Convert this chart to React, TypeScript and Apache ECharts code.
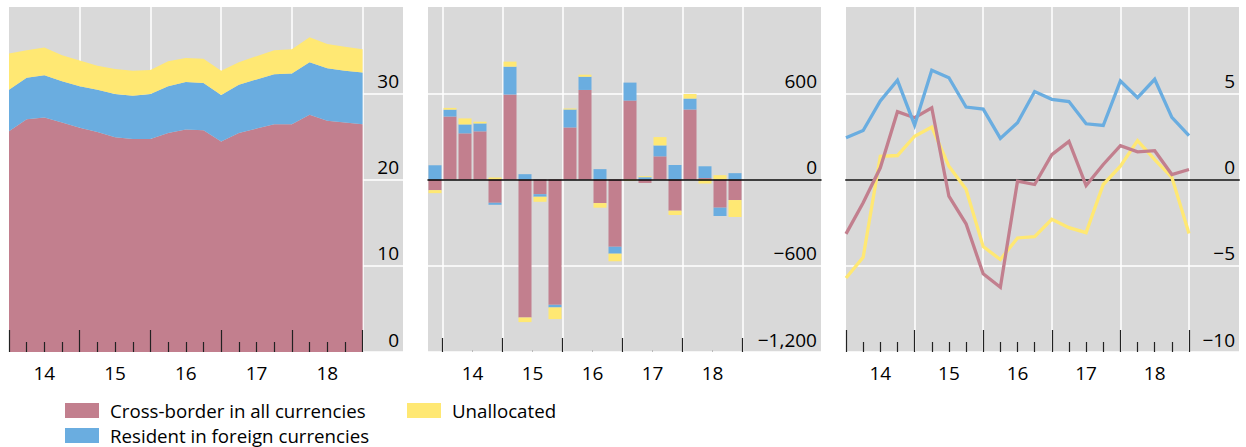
import React, { useEffect, useRef } from "react";
import * as echarts from "echarts";

// Quarters (quarter-end points / quarterly bars)
const quarters = [
  "2013Q4",
  "2014Q1", "2014Q2", "2014Q3", "2014Q4",
  "2015Q1", "2015Q2", "2015Q3", "2015Q4",
  "2016Q1", "2016Q2", "2016Q3", "2016Q4",
  "2017Q1", "2017Q2", "2017Q3", "2017Q4",
  "2018Q1", "2018Q2", "2018Q3", "2018Q4",
];
const yearLabels = ["14", "15", "16", "17", "18"];

const NAME_CB = "Cross-border in all currencies";
const NAME_RES = "Resident in foreign currencies";
const NAME_UN = "Unallocated";

// Panel 1: stocks (stacked areas)
const stockCrossBorder = [25.6, 27.0, 27.2, 26.6, 26.0, 25.5, 24.9, 24.7, 24.7, 25.4, 25.8, 25.7, 24.4, 25.4, 25.9, 26.4, 26.4, 27.5, 26.8, 26.6, 26.4];
const stockResident = [4.8, 4.8, 4.9, 4.8, 4.8, 4.9, 5.0, 5.0, 5.2, 5.4, 5.5, 5.5, 5.4, 5.6, 5.7, 5.8, 5.9, 6.1, 6.1, 6.0, 6.0];
const stockUnallocated = [4.2, 3.2, 3.2, 3.0, 3.0, 2.8, 2.9, 2.9, 2.8, 2.9, 2.8, 2.8, 2.8, 2.6, 2.7, 2.8, 2.8, 2.9, 2.8, 2.8, 2.7];

// Panel 2: flows (stacked bars)
const flowCrossBorder = [-74, 438, 321, 335, -162, 591, -960, -102, -872, 362, 623, -164, -468, 549, -24, 161, -217, 487, 10, -196, -143];
const flowResident = [99, 48, 62, 55, -14, 194, 37, -18, -18, 125, 92, 72, -48, 125, 16, 76, 101, 76, 82, -58, 44];
const flowUnallocated = [-21, 12, 42, 12, 14, 35, -32, -35, -81, 7, 14, -32, -53, -8, 7, 58, -30, 32, -28, 30, -118];

// Panel 3: growth rates (lines)
const growthCrossBorder = [-3.15, -1.35, 0.68, 3.93, 3.58, 4.16, -0.97, -2.57, -5.47, -6.25, -0.1, -0.29, 1.44, 2.21, -0.35, 0.87, 1.96, 1.6, 1.67, 0.29, 0.58];
const growthResident = [2.42, 2.84, 4.55, 5.75, 3.15, 6.34, 5.9, 4.2, 4.08, 2.38, 3.29, 5.1, 4.65, 4.52, 3.23, 3.13, 5.71, 4.75, 5.81, 3.6, 2.54];
const growthUnallocated = [-5.71, -4.51, 1.34, 1.39, 2.51, 3.04, 0.77, -0.56, -3.89, -4.64, -3.39, -3.31, -2.31, -2.79, -3.08, -0.29, 0.77, 2.25, 1.15, 0.13, -3.13];

const PINK = "#c27f8e";
const BLUE = "#6aade0";
const YELLOW = "#ffe873";
const BG = "#d9d9d9";
const FONT = "'Open Sans', 'Noto Sans', sans-serif";

const fmt = (v: number) => (v < 0 ? "\u2212" : "") + Math.abs(v).toLocaleString("en-US");

const TOP = 7;
const HEIGHT = 345;

export default function App() {
  const ref = useRef<HTMLDivElement>(null);
  useEffect(() => {
    if (!ref.current) return;
    const chart = echarts.init(ref.current, undefined, { renderer: "svg" });
    const grid = (left: number, width: number, bg: boolean) => ({
      left, width, top: TOP, height: HEIGHT,
      show: bg, backgroundColor: BG, borderWidth: 0, containLabel: false,
    });
    const labelY = (gridIndex: number, min: number, max: number, interval: number) => ({
      type: "value", gridIndex, position: "right", min, max, interval,
      axisLine: { show: false }, axisTick: { show: false },
      axisLabel: {
        inside: true, margin: 4, fontSize: 19, color: "#000", fontFamily: FONT,
        verticalAlign: "bottom", lineHeight: 25, showMaxLabel: false,
        formatter: (v: number) => fmt(v),
      },
      splitLine: { show: true, showMaxLine: false, lineStyle: { color: "#fff", width: 1.5 } },
    });
    const hiddenY = (gridIndex: number, min: number, max: number) => ({
      type: "value", gridIndex, min, max, show: false,
    });
    // vertical white gridlines at year boundaries (below the data)
    const splitX = (gridIndex: number, showMin: boolean) => ({
      type: "value", gridIndex, position: "bottom", min: 0, max: 20, interval: 4,
      axisLine: { show: false, onZero: false },
      axisTick: { show: false }, axisLabel: { show: false },
      splitLine: { show: true, showMinLine: showMin, showMaxLine: true, lineStyle: { color: "#fff", width: 1.5 } },
      z: 0,
    });
    // year / quarter ticks (above the data)
    const tickX = (gridIndex: number, len: number, minor: boolean) => ({
      type: "value", gridIndex, position: "bottom", min: 0, max: 20, interval: 4,
      axisLine: { show: false, onZero: false },
      axisTick: { show: true, inside: true, length: len, lineStyle: { color: "#222", width: 1.2 } },
      minorTick: { show: minor, splitNumber: 4, length: 10, lineStyle: { color: "#222", width: 1.2 } },
      axisLabel: { show: false },
      splitLine: { show: false },
      z: 5,
    });
    const catLabelX = (gridIndex: number, tiny: boolean) => ({
      type: "category", gridIndex, position: "bottom", data: yearLabels, boundaryGap: true,
      axisLine: { show: false, onZero: false },
      axisTick: { show: tiny, alignWithLabel: true, inside: true, length: 2, lineStyle: { color: "#bbb" } },
      axisLabel: { show: true, margin: 11, fontSize: 19, color: "#000", fontFamily: FONT },
      splitLine: { show: false },
    });
    const dataX = (gridIndex: number, boundaryGap: boolean) => ({
      type: "category", gridIndex, position: "bottom", data: quarters, boundaryGap,
      show: false, axisLine: { onZero: false },
    });
    const zeroX = (gridIndex: number, color: string, width: number, z: number) => ({
      type: "value", gridIndex, min: 0, max: 1, position: "bottom",
      axisLine: { show: true, onZero: true, lineStyle: { color, width } },
      axisTick: { show: false }, axisLabel: { show: false }, splitLine: { show: false },
      z,
    });
    const legendBase = {
      icon: "rect", itemWidth: 34, itemHeight: 15, padding: 0, selectedMode: false,
      textStyle: { fontSize: 18.7, lineHeight: 19, color: "#000", fontFamily: FONT, padding: [0, 0, 0, 6] },
    };
    const area = (name: string, data: number[], color: string) => ({
      type: "line", name, stack: "stock", xAxisIndex: 3, yAxisIndex: 1,
      data, symbol: "none", showSymbol: false,
      lineStyle: { width: 0, color }, itemStyle: { color },
      areaStyle: { color, opacity: 1 }, z: 2,
    });
    const bar = (name: string, data: number[], color: string) => ({
      type: "bar", name, stack: "flow", xAxisIndex: 5, yAxisIndex: 3,
      data, barWidth: 13, itemStyle: { color }, z: 2,
    });
    const line = (name: string, data: number[], color: string) => ({
      type: "line", name, xAxisIndex: 12, yAxisIndex: 6,
      data, symbol: "none", showSymbol: false,
      lineStyle: { width: 3.3, color, join: "miter" }, itemStyle: { color }, z: 4,
    });
    const option: any = {
      animation: false,
      textStyle: { fontFamily: FONT },
      grid: [
        grid(9, 394, true), // 0 P1 full
        grid(9, 353.6, false), // 1 P1 data
        grid(428, 393, true), // 2 P2 full
        grid(427.5, 315, false), // 3 P2 bars
        grid(442.5, 300, false), // 4 P2 ticks
        grid(846, 393, true), // 5 P3 full
        grid(846, 343, false), // 6 P3 data
      ],
      xAxis: [
        { type: "value", gridIndex: 0, min: 0, max: 1, show: false }, // 0
        splitX(1, false), // 1
        catLabelX(1, false), // 2
        dataX(1, false), // 3 P1 data
        zeroX(2, "#000", 1.5, 6), // 4
        dataX(3, true), // 5 P2 bars
        splitX(4, true), // 6
        catLabelX(4, true), // 7
        zeroX(5, "#444", 2, 1), // 8
        splitX(6, false), // 9
        catLabelX(6, false), // 10
        tickX(6, 22, true), // 11
        dataX(6, false), // 12 P3 data
        tickX(1, 22, true), // 13
        tickX(4, 14, false), // 14
      ],
      yAxis: [
        labelY(0, 0, 40, 10), // 0
        hiddenY(1, 0, 40), // 1
        labelY(2, -1200, 1200, 600), // 2
        hiddenY(3, -1200, 1200), // 3
        hiddenY(4, -1200, 1200), // 4
        labelY(5, -10, 10, 5), // 5
        hiddenY(6, -10, 10), // 6
      ],
      legend: [
        { ...legendBase, data: [NAME_CB], left: 65, top: 401 },
        { ...legendBase, data: [NAME_UN], left: 407, top: 401 },
        { ...legendBase, data: [NAME_RES], left: 65, top: 426 },
      ],
      series: [
        area(NAME_CB, stockCrossBorder, PINK),
        area(NAME_RES, stockResident, BLUE),
        area(NAME_UN, stockUnallocated, YELLOW),
        bar(NAME_CB, flowCrossBorder, PINK),
        bar(NAME_RES, flowResident, BLUE),
        bar(NAME_UN, flowUnallocated, YELLOW),
        line(NAME_UN, growthUnallocated, YELLOW),
        line(NAME_CB, growthCrossBorder, PINK),
        line(NAME_RES, growthResident, BLUE),
      ],
    };
    chart.setOption(option);
    return () => chart.dispose();
  }, []);
  return (
    <div
      ref={ref}
      style={{ position: "absolute", left: 0, top: 0, width: 1246, height: 447, background: "#fff" }}
    />
  );
}
